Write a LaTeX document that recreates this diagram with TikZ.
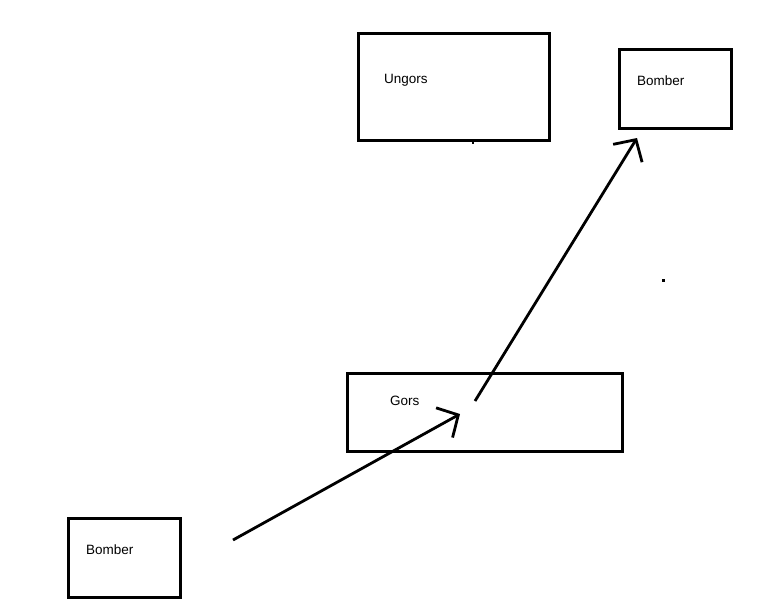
\documentclass[tikz,border=0pt]{standalone}
\usepackage{fontspec}
\setmainfont{Liberation Sans}
\usetikzlibrary{arrows.meta}
\usetikzlibrary{positioning}
\tikzset{
	unitbox/.style={draw, line width=3pt, minimum width=#1},
	lbl/.style={anchor=base west, inner sep=0pt, font=\fontsize{13.5}{15}\selectfont},
	move/.style={line width=2.8pt, -{Straight Barb[length=16pt,width=34pt]}}
}
\begin{document}
\begin{tikzpicture}[x=1pt,y=-1pt]
	\useasboundingbox (0,0) rectangle (768,614);
	\node[unitbox=191pt, minimum height=107pt] (ungors) at (453.5,87){};%top
	\node[unitbox=112pt, minimum height=79pt] (bombtop) at (675,88.5){};
	\node[unitbox=275pt, minimum height=78pt] (gors) at (484.5,412){};
	\node[unitbox=112pt, minimum height=79pt] (bombbot) at (124,557.5){};
	\node[lbl] (ungorstxt) at (384,83){Ungors};
	\node[lbl] (bombtoptxt) at (637,85){Bomber};
	\node[lbl] (gorstxt) at (390,405){Gors};
	\node[lbl] (bombbottxt) at (86,554){Bomber};
	\coordinate (s1) at (233,540);
	\coordinate (e1) at (460,414);
	\coordinate (s2) at (475,401);
	\coordinate (e2) at (637,138);
	\draw[move] (s1) -- (e1);
	\draw[move] (s2) -- (e2);
	\fill (472,141) rectangle (474,144);
	\fill (661.5,278.5) rectangle (664.5,281.5);
\end{tikzpicture}
\end{document}
